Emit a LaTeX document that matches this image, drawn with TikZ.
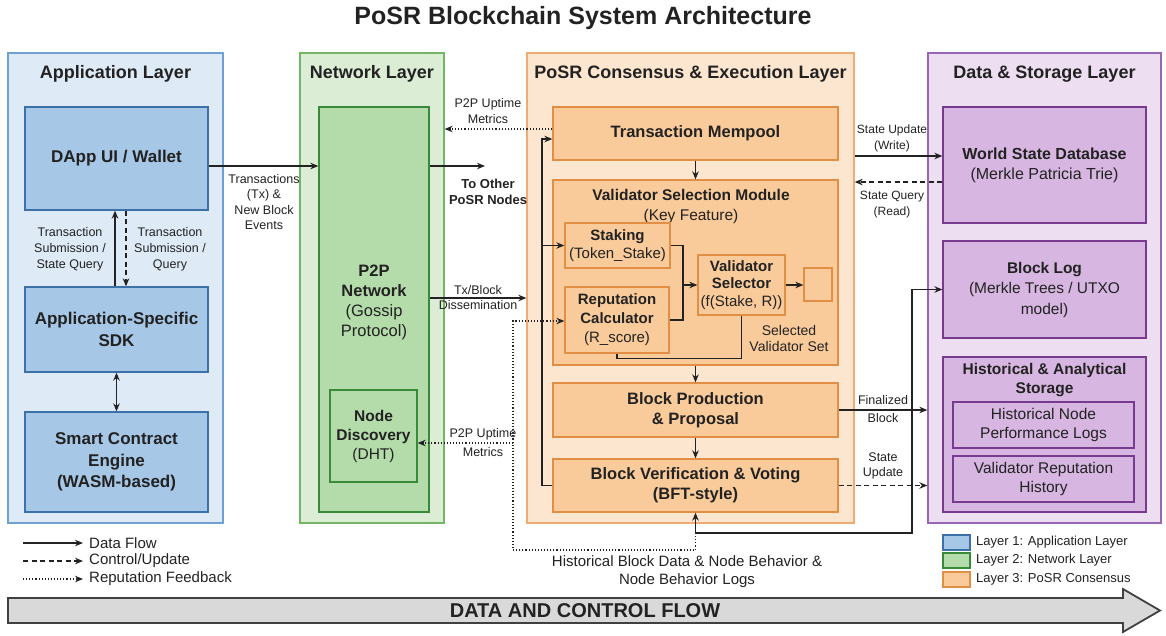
\documentclass[tikz,border=0pt]{standalone}
\usepackage{fontspec}
\setmainfont{Liberation Sans}
\usetikzlibrary{arrows.meta}
\definecolor{appfill}{RGB}{222,235,247}
\definecolor{appline}{RGB}{110,160,210}
\definecolor{appbox}{RGB}{166,199,230}
\definecolor{appedge}{RGB}{60,112,168}
\definecolor{netfill}{RGB}{219,238,213}
\definecolor{netline}{RGB}{112,182,100}
\definecolor{netbox}{RGB}{180,220,170}
\definecolor{netedge}{RGB}{56,138,56}
\definecolor{consfill}{RGB}{253,230,207}
\definecolor{consline}{RGB}{240,172,112}
\definecolor{consbox}{RGB}{250,203,154}
\definecolor{consedge}{RGB}{226,142,68}
\definecolor{datafill}{RGB}{237,222,242}
\definecolor{dataline}{RGB}{152,102,178}
\definecolor{databox}{RGB}{215,182,225}
\definecolor{dataedge}{RGB}{118,58,142}
\definecolor{ink}{RGB}{34,34,34}

\begin{document}
\begin{tikzpicture}[x=1pt,y=-1pt,>={Stealth[length=8pt,width=6.5pt]},
  every node/.style={inner sep=0pt,text=ink,align=center},
  layer/.style={fill=#1fill,draw=#1line,line width=1.3pt},
  box/.style={fill=#1box,draw=#1edge,line width=1.3pt},
  head/.style={font=\fontsize{18}{22}\selectfont\bfseries},
  big/.style={font=\fontsize{17}{21.5}\selectfont\bfseries},
  mid/.style={font=\fontsize{15.5}{18.5}\selectfont},
  lbl/.style={font=\fontsize{12.5}{15.5}\selectfont},
  wire/.style={draw=ink,line width=1.3pt},
  flow/.style={wire,->},
  control/.style={flow,dash pattern=on 5pt off 3.5pt},
  feedback/.style={flow,line width=1.1pt,dash pattern=on 1.1pt off 2pt}]
\useasboundingbox (0,0) rectangle (1166,635);
\node[font=\fontsize{25}{30}\selectfont\bfseries] (title) at (583,18) {PoSR Blockchain System Architecture};
\foreach \id/\x/\w/\t in {app/115.5/215/Application Layer,net/372/144/Network Layer,cons/690.5/327/PoSR Consensus \& Execution Layer,data/1044.5/233/Data \& Storage Layer}{
  \node[layer=\id,minimum width=\w,minimum height=470] (\id) at (\x,288) {};
  \node[head] (\id head) at (\x,74) {\t};
}
\node[box=app,big,minimum width=183,minimum height=103] (dapp) at (116.5,158.5) {DApp UI / Wallet};
\node[box=app,big,minimum width=183,minimum height=85] (sdk) at (116.5,329.5) {Application-Specific\\SDK};
\node[box=app,big,minimum width=183,minimum height=100] (engine) at (116.5,462) {Smart Contract\\Engine\\(WASM-based)};
\node[box=net,minimum width=110,minimum height=405] (p2p) at (374,309.5) {};
\node[font=\fontsize{16.5}{20}\selectfont] (p2plabel) at (374,302) {\textbf{P2P}\\\textbf{Network}\\(Gossip\\Protocol)};
\node[box=net,font=\fontsize{15.5}{19}\selectfont,minimum width=87,minimum height=92] (disc) at (373.5,436) {\textbf{Node}\\\textbf{Discovery}\\(DHT)};
\node[box=cons,font=\fontsize{16.5}{20}\selectfont\bfseries,minimum width=285,minimum height=53] (mempool) at (695.5,133.5) {Transaction Mempool};
\node[box=cons,minimum width=285,minimum height=185] (vsm) at (695.5,272.5) {};
\node[font=\fontsize{15.5}{20}\selectfont] (vsmhead) at (691,206) {\textbf{Validator Selection Module}\\(Key Feature)};
\node[box=cons,font=\fontsize{15}{18}\selectfont,minimum width=105,minimum height=45] (staking) at (617.5,245.5) {\textbf{Staking}\\(Token\_Stake)};
\node[box=cons,font=\fontsize{15}{19}\selectfont,minimum width=104,minimum height=66] (repcalc) at (617,320) {\textbf{Reputation}\\\textbf{Calculator}\\(R\_score)};
\node[box=cons,font=\fontsize{15}{17.5}\selectfont,minimum width=87,minimum height=60] (vsel) at (741.5,285) {\textbf{Validator}\\\textbf{Selector}\\(f(Stake, R))};
\node[box=cons,minimum width=28,minimum height=33] (slot) at (818,284.5) {};
\node[box=cons,font=\fontsize{16.5}{20}\selectfont\bfseries,minimum width=285,minimum height=54] (blockprod) at (695.5,410) {Block Production\\\& Proposal};
\node[box=cons,font=\fontsize{16.5}{20}\selectfont\bfseries,minimum width=285,minimum height=53] (verify) at (695.5,485.5) {Block Verification \& Voting\\(BFT-style)};
\node[box=data,font=\fontsize{16}{20}\selectfont,minimum width=203,minimum height=116] (wsd) at (1044.5,165) {\textbf{World State Database}\\(Merkle Patricia Trie)};
\node[box=data,font=\fontsize{15.5}{20.5}\selectfont,minimum width=203,minimum height=97] (blocklog) at (1044.5,289.5) {\textbf{Block Log}\\(Merkle Trees / UTXO\\model)};
\node[box=data,minimum width=203,minimum height=155] (hist) at (1044.5,434.5) {};
\node[font=\fontsize{15.5}{18.5}\selectfont\bfseries] (histhead) at (1044.5,380) {Historical \& Analytical\\Storage};
\node[box=data,mid,minimum width=181,minimum height=46] (perflog) at (1043.5,425) {Historical Node\\Performance Logs};
\node[box=data,mid,minimum width=181,minimum height=46] (rephist) at (1043.5,479) {Validator Reputation\\History};
\node[lbl] (txlbl) at (264,202) {Transactions\\(Tx) \&\\New Block\\Events};
\node[font=\fontsize{12.5}{16}\selectfont] (sublbl) at (70,249) {Transaction\\Submission /\\State Query};
\node[font=\fontsize{12.5}{16}\selectfont] (querylbl) at (170,249) {Transaction\\Submission /\\Query};
\node[font=\fontsize{13}{16}\selectfont\bfseries] (peerlbl) at (488,192) {To Other\\PoSR Nodes};
\node[lbl] (uplbl) at (488,111) {P2P Uptime\\Metrics};
\node[font=\fontsize{12.5}{19}\selectfont] (uplbl2) at (483,442.5) {P2P Uptime\\Metrics};
\node[font=\fontsize{12}{16}\selectfont] (writelbl) at (892,138.5) {State Update\\(Write)};
\node[font=\fontsize{12}{16}\selectfont] (readlbl) at (892,205) {State Query\\(Read)};
\node[font=\fontsize{12.5}{18}\selectfont] (finlbl) at (883,409) {Finalized\\Block};
\node[font=\fontsize{12.5}{15.5}\selectfont] (updlbl) at (883,466) {State\\Update};
\node[font=\fontsize{14}{16}\selectfont] (setlbl) at (789,338.5) {Selected\\Validator Set};
\node[font=\fontsize{15}{17.5}\selectfont] (histlbl) at (687,571.5) {Historical Block Data \& Node Behavior \&\\Node Behavior Logs};
\coordinate (peers) at (485,166);
\coordinate (merge) at (683,285);
\coordinate (loop) at (542,139);
\coordinate (logx) at (912,533);
\coordinate (fbx) at (513,443);
\draw[flow] (dapp.east |- 0,166) -- (p2p.west |- 0,166);
\draw[flow] (p2p.east |- peers) -- (peers);
\draw[flow] ([xshift=-1.5pt]sdk.north) -- ([xshift=-1.5pt]dapp.south);
\draw[control] ([xshift=9.5pt]dapp.south) -- ([xshift=9.5pt]sdk.north);
\draw[flow,<->] (sdk) -- (engine);
\draw[feedback] (mempool.west |- 0,129) -- (net.east |- 0,129);
\draw[flow] (p2p.east |- 0,298) -- (cons.west |- 0,298) node[lbl,midway,above=3pt] (txblk) {Tx/Block} node[lbl,midway,below=2pt] (dissem) {Dissemination};
\draw[flow] (mempool) -- (vsm);
\draw[wire] (staking.east) -| (merge);
\draw[wire] (repcalc.east) -| (merge);
\draw[flow] (merge) -- (vsel.west);
\draw[flow] (vsel.east) -- (slot.west |- vsel.east);
\draw[wire] (repcalc.south) -- ++(0,5) -| (vsel.south);
\draw[flow] (vsm) -- (blockprod);
\draw[flow] (blockprod) -- (verify);
\draw[flow] (verify.west) -| (loop) -- (loop -| mempool.west);
\draw[flow] (staking.west -| loop) -- (staking.west);
\draw[flow,<->] (blocklog.west) -| (logx) -| (verify.south);
\draw[feedback] (verify.south |- logx) -- ++(0,17) -| (fbx) |- (repcalc.west |- 0,321);
\draw[feedback] (fbx) -- (disc.east |- fbx);
\draw[flow] (cons.east |- 0,156) -- (wsd.west |- 0,156);
\draw[control] (wsd.west |- 0,182) -- (cons.east |- 0,182);
\draw[flow] (blockprod.east) -- (blockprod.east -| data.west);
\draw[control] (verify.east) -- (verify.east -| data.west);
\foreach \y/\s/\t [count=\i] in {543/flow/Data Flow,561/control/Control\slash Update,579/feedback/Reputation Feedback}{
  \node[font=\fontsize{15}{18}\selectfont,anchor=west] (leg\i) at (89,\y) {\t};
  \draw[\s] ([xshift=-66pt]leg\i.west) -- ([xshift=-6pt]leg\i.west);
}
\foreach \y/\c/\t [count=\i] in {542.5/app/Layer 1: Application Layer,560.5/net/Layer 2: Network Layer,579.5/cons/Layer 3: PoSR Consensus}{
  \node[box=\c,minimum width=27,minimum height=15] (sw\i) at (956.5,\y) {};
  \node[font=\fontsize{13}{16}\selectfont,anchor=west] (key\i) at (976,\y) {\t};
}
\draw[fill=black!15,draw=black!75,line width=1.8pt] (8,598) -- (1123,598) -- (1123,589) -- (1160,610.5) -- (1123,632) -- (1123,623) -- (8,623) -- cycle;
\node[font=\fontsize{20}{24}\selectfont\bfseries] (flowlbl) at (585,610.5) {DATA AND CONTROL FLOW};
\end{tikzpicture}
\end{document}
